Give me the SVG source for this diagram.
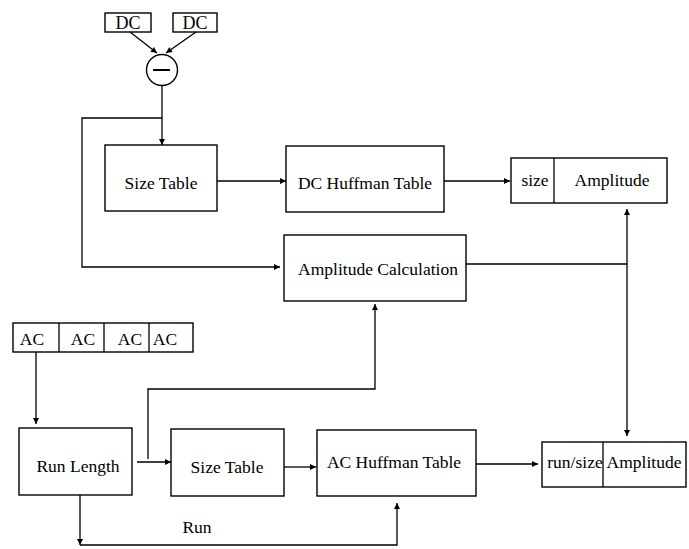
<svg xmlns="http://www.w3.org/2000/svg" width="689" height="549" viewBox="0 0 689 549">
<style>
.box{fill:#fff;stroke:#000;stroke-width:1.4}
.ln{fill:none;stroke:#000;stroke-width:1.3}
text{font-family:"Liberation Serif","Times New Roman",serif;font-size:17.5px;fill:#000;text-anchor:middle}
</style>
<defs>
<marker id="ah" viewBox="0 0 10 10" refX="10" refY="5" markerWidth="8" markerHeight="6" markerUnits="userSpaceOnUse" orient="auto">
<path d="M0,0 L10,5 L0,10 z" fill="#000"/>
</marker>
</defs>
<g id="connectors">
<path class="ln" d="M130,32 L157,53" marker-end="url(#ah)"/>
<path class="ln" d="M196,32 L166,53" marker-end="url(#ah)"/>
<path class="ln" d="M162,86 L162,145" marker-end="url(#ah)"/>
<path class="ln" d="M162,118 L82,118 L82,267 L280,267" marker-end="url(#ah)"/>
<path class="ln" d="M217,181 L286,181" marker-end="url(#ah)"/>
<path class="ln" d="M444,181 L510,181" marker-end="url(#ah)"/>
<path class="ln" d="M466,264 L627,264"/>
<path class="ln" d="M627,264 L627,209" marker-end="url(#ah)"/>
<path class="ln" d="M627,264 L627,436" marker-end="url(#ah)"/>
<path class="ln" d="M36,352 L36,424" marker-end="url(#ah)"/>
<path class="ln" d="M137,462 L171,462" marker-end="url(#ah)"/>
<path class="ln" d="M148,459 L148,389 L375,389 L375,304" marker-end="url(#ah)"/>
<path class="ln" d="M284,467 L316,467" marker-end="url(#ah)"/>
<path class="ln" d="M476,464 L538,464" marker-end="url(#ah)"/>
<path class="ln" d="M80,495 L80,545" marker-end="url(#ah)"/>
<path class="ln" d="M80,545 L397,545 L397,503" marker-end="url(#ah)"/>
<text x="197" y="533">Run</text>
</g>
<g id="dc1"><rect class="box" x="105" y="13" width="46" height="19"/><text x="128" y="29" style="font-size:18px">DC</text></g>
<g id="dc2"><rect class="box" x="173" y="13" width="44" height="19"/><text x="195" y="29" style="font-size:18px">DC</text></g>
<g id="minus"><circle cx="162" cy="70" r="15.5" fill="#fff" stroke="#000" stroke-width="1.4"/><line x1="153" y1="70" x2="170" y2="70" stroke="#000" stroke-width="2"/></g>
<g id="size-table-dc"><rect class="box" x="105" y="145" width="112" height="66"/><text x="161" y="189">Size Table</text></g>
<g id="dc-huffman"><rect class="box" x="286" y="146" width="158" height="66"/><text x="365" y="189">DC Huffman Table</text></g>
<g id="dc-output"><rect class="box" x="511" y="158" width="156" height="45"/><line class="ln" x1="554" y1="158" x2="554" y2="203"/><text x="535" y="186">size</text><text x="612" y="186">Amplitude</text></g>
<g id="amp-calc"><rect class="box" x="284" y="235" width="182" height="66"/><text x="378" y="275">Amplitude Calculation</text></g>
<g id="ac-input"><rect class="box" x="13" y="323" width="180" height="29"/><line class="ln" x1="59" y1="323" x2="59" y2="352"/><line class="ln" x1="104" y1="323" x2="104" y2="352"/><line class="ln" x1="149" y1="323" x2="149" y2="352"/><text x="32" y="345">AC</text><text x="83" y="345">AC</text><text x="130" y="345">AC</text><text x="165" y="345">AC</text></g>
<g id="run-length"><rect class="box" x="19" y="428" width="113" height="67"/><text x="78" y="472">Run Length</text></g>
<g id="size-table-ac"><rect class="box" x="171" y="429" width="113" height="67"/><text x="227" y="473">Size Table</text></g>
<g id="ac-huffman"><rect class="box" x="317" y="430" width="159" height="66"/><text x="394" y="468">AC Huffman Table</text></g>
<g id="ac-output"><rect class="box" x="542" y="442" width="144" height="45"/><line class="ln" x1="603" y1="442" x2="603" y2="487"/><text x="575" y="468">run/size</text><text x="644" y="468">Amplitude</text></g>
</svg>
